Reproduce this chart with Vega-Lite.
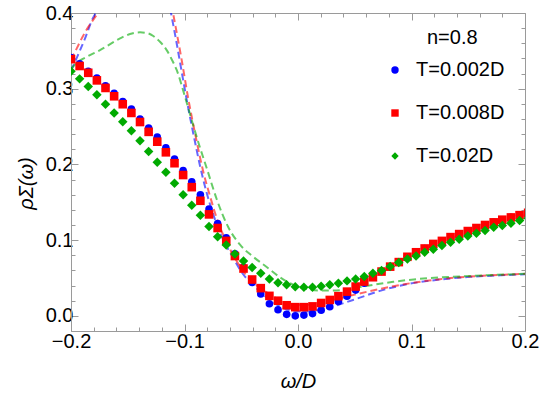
{
  "$schema": "https://vega.github.io/schema/vega-lite/v6.json",
  "width": 454,
  "height": 318,
  "autosize": {"type": "none"},
  "padding": {"left": 71, "top": 13, "right": 17, "bottom": 72},
  "background": "white",
  "title": {
    "text": "n=0.8", "orient": "top", "anchor": "start", "frame": "group", "align": "left", "baseline": "middle",
    "offset": 0, "dx": 356, "dy": 55,
    "fontSize": 20, "fontWeight": "normal", "color": "#000000", "font": "Liberation Sans"
  },
  "config": {
    "view": {"stroke": null},
    "font": "Liberation Sans",
    "axis": {"grid": false, "domainColor": "#9a9a9a", "tickColor": "#9a9a9a", "domainWidth": 1, "tickWidth": 1, "labelOverlap": false, "labelFlush": false}
  },
  "datasets": {
    "pts": [
      {"w": -0.2, "rho": 0.341, "T": "T=0.002D"}, {"w": -0.1924, "rho": 0.333, "T": "T=0.002D"}, {"w": -0.1848, "rho": 0.323, "T": "T=0.002D"}, {"w": -0.1772, "rho": 0.314, "T": "T=0.002D"}, {"w": -0.1696, "rho": 0.304, "T": "T=0.002D"}, {"w": -0.162, "rho": 0.294, "T": "T=0.002D"}, {"w": -0.1544, "rho": 0.283, "T": "T=0.002D"}, {"w": -0.1468, "rho": 0.273, "T": "T=0.002D"}, {"w": -0.1392, "rho": 0.26, "T": "T=0.002D"}, {"w": -0.1316, "rho": 0.248, "T": "T=0.002D"},
      {"w": -0.124, "rho": 0.236, "T": "T=0.002D"}, {"w": -0.1164, "rho": 0.222, "T": "T=0.002D"}, {"w": -0.1088, "rho": 0.207, "T": "T=0.002D"}, {"w": -0.1012, "rho": 0.192, "T": "T=0.002D"}, {"w": -0.0936, "rho": 0.177, "T": "T=0.002D"}, {"w": -0.086, "rho": 0.16, "T": "T=0.002D"}, {"w": -0.0784, "rho": 0.141, "T": "T=0.002D"}, {"w": -0.0708, "rho": 0.122, "T": "T=0.002D"}, {"w": -0.0632, "rho": 0.103, "T": "T=0.002D"}, {"w": -0.0556, "rho": 0.082, "T": "T=0.002D"},
      {"w": -0.048, "rho": 0.064, "T": "T=0.002D"}, {"w": -0.0404, "rho": 0.044, "T": "T=0.002D"}, {"w": -0.0328, "rho": 0.029, "T": "T=0.002D"}, {"w": -0.0252, "rho": 0.016, "T": "T=0.002D"}, {"w": -0.0176, "rho": 0.008, "T": "T=0.002D"}, {"w": -0.01, "rho": 0.002, "T": "T=0.002D"}, {"w": -0.0024, "rho": 0.0, "T": "T=0.002D"}, {"w": 0.0052, "rho": 0.001, "T": "T=0.002D"}, {"w": 0.0128, "rho": 0.003, "T": "T=0.002D"}, {"w": 0.0204, "rho": 0.0075, "T": "T=0.002D"},
      {"w": 0.028, "rho": 0.012, "T": "T=0.002D"}, {"w": 0.0356, "rho": 0.019, "T": "T=0.002D"}, {"w": 0.0432, "rho": 0.026, "T": "T=0.002D"}, {"w": 0.0508, "rho": 0.034, "T": "T=0.002D"}, {"w": 0.0584, "rho": 0.043, "T": "T=0.002D"}, {"w": 0.066, "rho": 0.051, "T": "T=0.002D"}, {"w": 0.0736, "rho": 0.0585, "T": "T=0.002D"}, {"w": 0.0812, "rho": 0.065, "T": "T=0.002D"}, {"w": 0.0888, "rho": 0.071, "T": "T=0.002D"}, {"w": 0.0964, "rho": 0.078, "T": "T=0.002D"},
      {"w": 0.104, "rho": 0.084, "T": "T=0.002D"}, {"w": 0.1116, "rho": 0.089, "T": "T=0.002D"}, {"w": 0.1192, "rho": 0.095, "T": "T=0.002D"}, {"w": 0.1268, "rho": 0.099, "T": "T=0.002D"}, {"w": 0.1344, "rho": 0.104, "T": "T=0.002D"}, {"w": 0.142, "rho": 0.108, "T": "T=0.002D"}, {"w": 0.1496, "rho": 0.112, "T": "T=0.002D"}, {"w": 0.1572, "rho": 0.116, "T": "T=0.002D"}, {"w": 0.1648, "rho": 0.12, "T": "T=0.002D"}, {"w": 0.1724, "rho": 0.1235, "T": "T=0.002D"},
      {"w": 0.18, "rho": 0.127, "T": "T=0.002D"}, {"w": 0.1876, "rho": 0.13, "T": "T=0.002D"}, {"w": 0.1952, "rho": 0.133, "T": "T=0.002D"}, {"w": 0.2028, "rho": 0.136, "T": "T=0.002D"},

      {"w": -0.2, "rho": 0.339, "T": "T=0.008D"}, {"w": -0.1924, "rho": 0.33, "T": "T=0.008D"}, {"w": -0.1848, "rho": 0.321, "T": "T=0.008D"}, {"w": -0.1772, "rho": 0.311, "T": "T=0.008D"}, {"w": -0.1696, "rho": 0.301, "T": "T=0.008D"}, {"w": -0.162, "rho": 0.29, "T": "T=0.008D"}, {"w": -0.1544, "rho": 0.2795, "T": "T=0.008D"}, {"w": -0.1468, "rho": 0.268, "T": "T=0.008D"}, {"w": -0.1392, "rho": 0.256, "T": "T=0.008D"}, {"w": -0.1316, "rho": 0.243, "T": "T=0.008D"},
      {"w": -0.124, "rho": 0.23, "T": "T=0.008D"}, {"w": -0.1164, "rho": 0.216, "T": "T=0.008D"}, {"w": -0.1088, "rho": 0.2016, "T": "T=0.008D"}, {"w": -0.1012, "rho": 0.186, "T": "T=0.008D"}, {"w": -0.0936, "rho": 0.17, "T": "T=0.008D"}, {"w": -0.086, "rho": 0.152, "T": "T=0.008D"}, {"w": -0.0784, "rho": 0.134, "T": "T=0.008D"}, {"w": -0.0708, "rho": 0.116, "T": "T=0.008D"}, {"w": -0.0632, "rho": 0.099, "T": "T=0.008D"}, {"w": -0.0556, "rho": 0.079, "T": "T=0.008D"},
      {"w": -0.048, "rho": 0.0625, "T": "T=0.008D"}, {"w": -0.0404, "rho": 0.048, "T": "T=0.008D"}, {"w": -0.0328, "rho": 0.0366, "T": "T=0.008D"}, {"w": -0.0252, "rho": 0.0264, "T": "T=0.008D"}, {"w": -0.0176, "rho": 0.02, "T": "T=0.008D"}, {"w": -0.01, "rho": 0.014, "T": "T=0.008D"}, {"w": -0.0024, "rho": 0.0115, "T": "T=0.008D"}, {"w": 0.0052, "rho": 0.0115, "T": "T=0.008D"}, {"w": 0.0128, "rho": 0.0125, "T": "T=0.008D"}, {"w": 0.0204, "rho": 0.017, "T": "T=0.008D"},
      {"w": 0.028, "rho": 0.021, "T": "T=0.008D"}, {"w": 0.0356, "rho": 0.026, "T": "T=0.008D"}, {"w": 0.0432, "rho": 0.032, "T": "T=0.008D"}, {"w": 0.0508, "rho": 0.0387, "T": "T=0.008D"}, {"w": 0.0584, "rho": 0.0453, "T": "T=0.008D"}, {"w": 0.066, "rho": 0.051, "T": "T=0.008D"}, {"w": 0.0736, "rho": 0.0585, "T": "T=0.008D"}, {"w": 0.0812, "rho": 0.065, "T": "T=0.008D"}, {"w": 0.0888, "rho": 0.071, "T": "T=0.008D"}, {"w": 0.0964, "rho": 0.078, "T": "T=0.008D"},
      {"w": 0.104, "rho": 0.084, "T": "T=0.008D"}, {"w": 0.1116, "rho": 0.089, "T": "T=0.008D"}, {"w": 0.1192, "rho": 0.095, "T": "T=0.008D"}, {"w": 0.1268, "rho": 0.099, "T": "T=0.008D"}, {"w": 0.1344, "rho": 0.104, "T": "T=0.008D"}, {"w": 0.142, "rho": 0.108, "T": "T=0.008D"}, {"w": 0.1496, "rho": 0.112, "T": "T=0.008D"}, {"w": 0.1572, "rho": 0.116, "T": "T=0.008D"}, {"w": 0.1648, "rho": 0.12, "T": "T=0.008D"}, {"w": 0.1724, "rho": 0.1235, "T": "T=0.008D"},
      {"w": 0.18, "rho": 0.127, "T": "T=0.008D"}, {"w": 0.1876, "rho": 0.13, "T": "T=0.008D"}, {"w": 0.1952, "rho": 0.133, "T": "T=0.008D"}, {"w": 0.2028, "rho": 0.136, "T": "T=0.008D"},

      {"w": -0.2, "rho": 0.323, "T": "T=0.02D"}, {"w": -0.1924, "rho": 0.313, "T": "T=0.02D"}, {"w": -0.1848, "rho": 0.303, "T": "T=0.02D"}, {"w": -0.1772, "rho": 0.292, "T": "T=0.02D"}, {"w": -0.1696, "rho": 0.2795, "T": "T=0.02D"}, {"w": -0.162, "rho": 0.268, "T": "T=0.02D"}, {"w": -0.1544, "rho": 0.2565, "T": "T=0.02D"}, {"w": -0.1468, "rho": 0.2446, "T": "T=0.02D"}, {"w": -0.1392, "rho": 0.2314, "T": "T=0.02D"}, {"w": -0.1316, "rho": 0.217, "T": "T=0.02D"},
      {"w": -0.124, "rho": 0.203, "T": "T=0.02D"}, {"w": -0.1164, "rho": 0.1897, "T": "T=0.02D"}, {"w": -0.1088, "rho": 0.175, "T": "T=0.02D"}, {"w": -0.1012, "rho": 0.16, "T": "T=0.02D"}, {"w": -0.0936, "rho": 0.146, "T": "T=0.02D"}, {"w": -0.086, "rho": 0.133, "T": "T=0.02D"}, {"w": -0.0784, "rho": 0.118, "T": "T=0.02D"}, {"w": -0.0708, "rho": 0.1045, "T": "T=0.02D"}, {"w": -0.0632, "rho": 0.0937, "T": "T=0.02D"}, {"w": -0.0556, "rho": 0.0818, "T": "T=0.02D"},
      {"w": -0.048, "rho": 0.0725, "T": "T=0.02D"}, {"w": -0.0404, "rho": 0.064, "T": "T=0.02D"}, {"w": -0.0328, "rho": 0.0564, "T": "T=0.02D"}, {"w": -0.0252, "rho": 0.0488, "T": "T=0.02D"}, {"w": -0.0176, "rho": 0.0436, "T": "T=0.02D"}, {"w": -0.01, "rho": 0.041, "T": "T=0.02D"}, {"w": -0.0024, "rho": 0.0383, "T": "T=0.02D"}, {"w": 0.0052, "rho": 0.0377, "T": "T=0.02D"}, {"w": 0.0128, "rho": 0.0379, "T": "T=0.02D"}, {"w": 0.0204, "rho": 0.039, "T": "T=0.02D"},
      {"w": 0.028, "rho": 0.041, "T": "T=0.02D"}, {"w": 0.0356, "rho": 0.043, "T": "T=0.02D"}, {"w": 0.0432, "rho": 0.0462, "T": "T=0.02D"}, {"w": 0.0508, "rho": 0.0486, "T": "T=0.02D"}, {"w": 0.0584, "rho": 0.0519, "T": "T=0.02D"}, {"w": 0.066, "rho": 0.0564, "T": "T=0.02D"}, {"w": 0.0736, "rho": 0.0598, "T": "T=0.02D"}, {"w": 0.0812, "rho": 0.0651, "T": "T=0.02D"}, {"w": 0.0888, "rho": 0.0704, "T": "T=0.02D"}, {"w": 0.0964, "rho": 0.0752, "T": "T=0.02D"},
      {"w": 0.104, "rho": 0.0792, "T": "T=0.02D"}, {"w": 0.1116, "rho": 0.0841, "T": "T=0.02D"}, {"w": 0.1192, "rho": 0.088, "T": "T=0.02D"}, {"w": 0.1268, "rho": 0.0928, "T": "T=0.02D"}, {"w": 0.1344, "rho": 0.0973, "T": "T=0.02D"}, {"w": 0.142, "rho": 0.1012, "T": "T=0.02D"}, {"w": 0.1496, "rho": 0.1056, "T": "T=0.02D"}, {"w": 0.1572, "rho": 0.1092, "T": "T=0.02D"}, {"w": 0.1648, "rho": 0.1126, "T": "T=0.02D"}, {"w": 0.1724, "rho": 0.1171, "T": "T=0.02D"},
      {"w": 0.18, "rho": 0.1192, "T": "T=0.02D"}, {"w": 0.1876, "rho": 0.1224, "T": "T=0.02D"}, {"w": 0.1952, "rho": 0.1258, "T": "T=0.02D"}, {"w": 0.2028, "rho": 0.129, "T": "T=0.02D"}
    ],
    "curves": [
      {"w": -0.2, "rho": 0.324, "T": "T=0.002D"}, {"w": -0.196, "rho": 0.337, "T": "T=0.002D"}, {"w": -0.192, "rho": 0.351, "T": "T=0.002D"}, {"w": -0.188, "rho": 0.365, "T": "T=0.002D"}, {"w": -0.185, "rho": 0.377, "T": "T=0.002D"}, {"w": -0.182, "rho": 0.389, "T": "T=0.002D"}, {"w": -0.178, "rho": 0.401, "T": "T=0.002D"}, {"w": -0.172, "rho": 0.425, "T": "T=0.002D"}, {"w": -0.155, "rho": 0.47, "T": "T=0.002D"}, {"w": -0.14, "rho": 0.49, "T": "T=0.002D"}, {"w": -0.125, "rho": 0.47, "T": "T=0.002D"}, {"w": -0.1155, "rho": 0.428, "T": "T=0.002D"}, {"w": -0.1119, "rho": 0.4, "T": "T=0.002D"}, {"w": -0.1075, "rho": 0.365, "T": "T=0.002D"}, {"w": -0.1022, "rho": 0.32, "T": "T=0.002D"}, {"w": -0.0969, "rho": 0.276, "T": "T=0.002D"}, {"w": -0.0916, "rho": 0.236, "T": "T=0.002D"}, {"w": -0.0863, "rho": 0.198, "T": "T=0.002D"}, {"w": -0.0811, "rho": 0.166, "T": "T=0.002D"}, {"w": -0.0749, "rho": 0.135, "T": "T=0.002D"}, {"w": -0.067, "rho": 0.104, "T": "T=0.002D"}, {"w": -0.0581, "rho": 0.079, "T": "T=0.002D"}, {"w": -0.0493, "rho": 0.057, "T": "T=0.002D"}, {"w": -0.037, "rho": 0.037, "T": "T=0.002D"}, {"w": -0.022, "rho": 0.018, "T": "T=0.002D"}, {"w": -0.007, "rho": 0.0075, "T": "T=0.002D"}, {"w": 0.007, "rho": 0.0057, "T": "T=0.002D"}, {"w": 0.0247, "rho": 0.0102, "T": "T=0.002D"}, {"w": 0.0485, "rho": 0.021, "T": "T=0.002D"}, {"w": 0.0722, "rho": 0.033, "T": "T=0.002D"}, {"w": 0.0987, "rho": 0.0425, "T": "T=0.002D"}, {"w": 0.1251, "rho": 0.048, "T": "T=0.002D"}, {"w": 0.1515, "rho": 0.0515, "T": "T=0.002D"}, {"w": 0.178, "rho": 0.0535, "T": "T=0.002D"}, {"w": 0.2, "rho": 0.055, "T": "T=0.002D"},

      {"w": -0.2, "rho": 0.338, "T": "T=0.008D"}, {"w": -0.195, "rho": 0.353, "T": "T=0.008D"}, {"w": -0.19, "rho": 0.368, "T": "T=0.008D"}, {"w": -0.185, "rho": 0.381, "T": "T=0.008D"}, {"w": -0.18, "rho": 0.392, "T": "T=0.008D"}, {"w": -0.175, "rho": 0.402, "T": "T=0.008D"}, {"w": -0.165, "rho": 0.42, "T": "T=0.008D"}, {"w": -0.15, "rho": 0.45, "T": "T=0.008D"}, {"w": -0.135, "rho": 0.465, "T": "T=0.008D"}, {"w": -0.122, "rho": 0.455, "T": "T=0.008D"}, {"w": -0.1135, "rho": 0.427, "T": "T=0.008D"}, {"w": -0.1101, "rho": 0.4, "T": "T=0.008D"}, {"w": -0.1025, "rho": 0.338, "T": "T=0.008D"}, {"w": -0.0967, "rho": 0.287, "T": "T=0.008D"}, {"w": -0.0907, "rho": 0.241, "T": "T=0.008D"}, {"w": -0.0834, "rho": 0.19, "T": "T=0.008D"}, {"w": -0.0775, "rho": 0.158, "T": "T=0.008D"}, {"w": -0.0702, "rho": 0.123, "T": "T=0.008D"}, {"w": -0.0628, "rho": 0.097, "T": "T=0.008D"}, {"w": -0.0555, "rho": 0.076, "T": "T=0.008D"}, {"w": -0.0452, "rho": 0.053, "T": "T=0.008D"}, {"w": -0.0276, "rho": 0.031, "T": "T=0.008D"}, {"w": -0.01, "rho": 0.0175, "T": "T=0.008D"}, {"w": 0.0047, "rho": 0.0145, "T": "T=0.008D"}, {"w": 0.0223, "rho": 0.0176, "T": "T=0.008D"}, {"w": 0.0429, "rho": 0.0255, "T": "T=0.008D"}, {"w": 0.0722, "rho": 0.0355, "T": "T=0.008D"}, {"w": 0.0987, "rho": 0.043, "T": "T=0.008D"}, {"w": 0.1251, "rho": 0.0485, "T": "T=0.008D"}, {"w": 0.1515, "rho": 0.052, "T": "T=0.008D"}, {"w": 0.178, "rho": 0.054, "T": "T=0.008D"}, {"w": 0.2, "rho": 0.0555, "T": "T=0.008D"},

      {"w": -0.2, "rho": 0.326, "T": "T=0.02D"}, {"w": -0.195, "rho": 0.334, "T": "T=0.02D"}, {"w": -0.185, "rho": 0.343, "T": "T=0.02D"}, {"w": -0.1744, "rho": 0.351, "T": "T=0.02D"}, {"w": -0.1568, "rho": 0.3665, "T": "T=0.02D"}, {"w": -0.148, "rho": 0.3722, "T": "T=0.02D"}, {"w": -0.1392, "rho": 0.3745, "T": "T=0.02D"}, {"w": -0.133, "rho": 0.3735, "T": "T=0.02D"}, {"w": -0.1275, "rho": 0.3696, "T": "T=0.02D"}, {"w": -0.1216, "rho": 0.362, "T": "T=0.02D"}, {"w": -0.1157, "rho": 0.351, "T": "T=0.02D"}, {"w": -0.111, "rho": 0.338, "T": "T=0.02D"}, {"w": -0.1069, "rho": 0.3248, "T": "T=0.02D"}, {"w": -0.0996, "rho": 0.2895, "T": "T=0.02D"}, {"w": -0.0922, "rho": 0.251, "T": "T=0.02D"}, {"w": -0.0863, "rho": 0.222, "T": "T=0.02D"}, {"w": -0.0804, "rho": 0.195, "T": "T=0.02D"}, {"w": -0.0716, "rho": 0.154, "T": "T=0.02D"}, {"w": -0.0614, "rho": 0.117, "T": "T=0.02D"}, {"w": -0.0511, "rho": 0.094, "T": "T=0.02D"}, {"w": -0.0394, "rho": 0.078, "T": "T=0.02D"}, {"w": -0.0276, "rho": 0.0645, "T": "T=0.02D"}, {"w": -0.0159, "rho": 0.051, "T": "T=0.02D"}, {"w": -0.0041, "rho": 0.041, "T": "T=0.02D"}, {"w": 0.0077, "rho": 0.0355, "T": "T=0.02D"}, {"w": 0.0194, "rho": 0.0335, "T": "T=0.02D"}, {"w": 0.0311, "rho": 0.0335, "T": "T=0.02D"}, {"w": 0.0429, "rho": 0.035, "T": "T=0.02D"}, {"w": 0.0546, "rho": 0.038, "T": "T=0.02D"}, {"w": 0.084, "rho": 0.045, "T": "T=0.02D"}, {"w": 0.1134, "rho": 0.0497, "T": "T=0.02D"}, {"w": 0.1427, "rho": 0.052, "T": "T=0.02D"}, {"w": 0.1721, "rho": 0.054, "T": "T=0.02D"}, {"w": 0.2, "rho": 0.0555, "T": "T=0.02D"}
    ]
  },
  "layer": [
    {
      "data": {"name": "curves"},
      "mark": {"type": "line", "strokeDash": [7, 4], "strokeWidth": 2, "strokeOpacity": 0.6, "clip": true, "interpolate": "monotone"},
      "encoding": {
        "x": {
          "field": "w", "type": "quantitative",
          "scale": {"domain": [-0.2, 0.2], "nice": false, "zero": false},
          "axis": {
            "orient": "top", "title": null, "labels": false,
            "values": [-0.2, -0.18, -0.16, -0.14, -0.12, -0.1, -0.08, -0.06, -0.04, -0.02, 0, 0.02, 0.04, 0.06, 0.08, 0.1, 0.12, 0.14, 0.16, 0.18, 0.2],
            "tickSize": {"condition": {"test": "abs(datum.value*10 - round(datum.value*10)) < 0.001", "value": -7}, "value": -4}
          }
        },
        "y": {
          "field": "rho", "type": "quantitative",
          "scale": {"domain": [-0.02, 0.4], "nice": false, "zero": false},
          "axis": {
            "orient": "right", "title": null, "labels": false,
            "values": [-0.02, 0, 0.02, 0.04, 0.06, 0.08, 0.1, 0.12, 0.14, 0.16, 0.18, 0.2, 0.22, 0.24, 0.26, 0.28, 0.3, 0.32, 0.34, 0.36, 0.38, 0.4],
            "tickSize": {"condition": {"test": "abs(datum.value*10 - round(datum.value*10)) < 0.001", "value": -7}, "value": -4}
          }
        },
        "stroke": {
          "field": "T", "type": "nominal",
          "scale": {"domain": ["T=0.02D", "T=0.008D", "T=0.002D"], "range": ["#00aa00", "#ff0000", "#0000ff"]},
          "legend": null
        }
      }
    },
    {
      "data": {"name": "pts"},
      "mark": {"type": "point", "filled": true, "opacity": 1, "clip": true},
      "encoding": {
        "x": {
          "field": "w", "type": "quantitative",
          "scale": {"domain": [-0.2, 0.2], "nice": false, "zero": false},
          "axis": {
            "orient": "bottom", "title": "ω/D",
            "values": [-0.2, -0.18, -0.16, -0.14, -0.12, -0.1, -0.08, -0.06, -0.04, -0.02, 0, 0.02, 0.04, 0.06, 0.08, 0.1, 0.12, 0.14, 0.16, 0.18, 0.2],
            "labelExpr": "abs(datum.value*10 - round(datum.value*10)) < 0.001 ? format(datum.value, '.1f') : ''",
            "tickSize": {"condition": {"test": "abs(datum.value*10 - round(datum.value*10)) < 0.001", "value": -7}, "value": -4},
            "labelFontSize": 20, "labelColor": "#000000", "labelPadding": 7,
            "titleFontSize": 20, "titleFontStyle": "italic", "titleFontWeight": "normal", "titleColor": "#000000", "titlePadding": 17
          }
        },
        "y": {
          "field": "rho", "type": "quantitative",
          "scale": {"domain": [-0.02, 0.4], "nice": false, "zero": false},
          "axis": {
            "orient": "left", "title": "ρΣ(ω)",
            "values": [-0.02, 0, 0.02, 0.04, 0.06, 0.08, 0.1, 0.12, 0.14, 0.16, 0.18, 0.2, 0.22, 0.24, 0.26, 0.28, 0.3, 0.32, 0.34, 0.36, 0.38, 0.4],
            "labelExpr": "abs(datum.value*10 - round(datum.value*10)) < 0.001 ? format(datum.value, '.1f') : ''",
            "tickSize": {"condition": {"test": "abs(datum.value*10 - round(datum.value*10)) < 0.001", "value": -7}, "value": -4},
            "labelFontSize": 20, "labelColor": "#000000", "labelPadding": 5,
            "titleFontSize": 20, "titleFontStyle": "italic", "titleFontWeight": "normal", "titleColor": "#000000", "titlePadding": 9, "titleY": 170
          }
        },
        "color": {
          "field": "T", "type": "nominal",
          "scale": {"domain": ["T=0.002D", "T=0.008D", "T=0.02D"], "range": ["#0000ff", "#ff0000", "#00aa00"]},
          "legend": {
            "title": null, "orient": "none", "legendX": 314, "legendY": 47,
            "labelFontSize": 20, "labelColor": "#000000", "labelOffset": 11, "rowPadding": 23, "padding": 0, "symbolSize": 55
          }
        },
        "shape": {
          "field": "T", "type": "nominal",
          "scale": {"domain": ["T=0.002D", "T=0.008D", "T=0.02D"], "range": ["circle", "square", "diamond"]},
          "legend": {
            "title": null, "orient": "none", "legendX": 314, "legendY": 47,
            "labelFontSize": 20, "labelColor": "#000000", "labelOffset": 11, "rowPadding": 23, "padding": 0, "symbolSize": 55
          }
        },
        "size": {
          "field": "T", "type": "nominal",
          "scale": {"domain": ["T=0.02D", "T=0.008D", "T=0.002D"], "range": [90, 58, 80]},
          "legend": null
        }
      }
    }
  ],
  "resolve": {"axis": {"x": "independent", "y": "independent"}}
}
